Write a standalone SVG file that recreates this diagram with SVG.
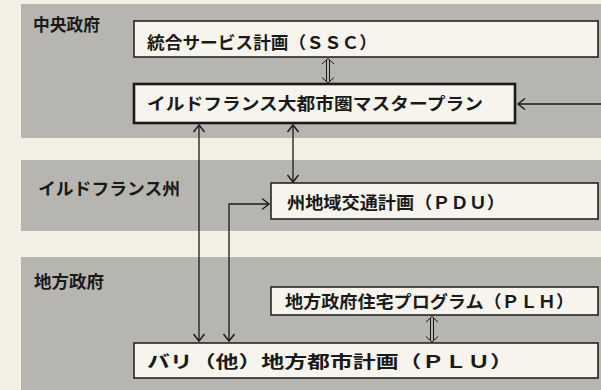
<svg xmlns="http://www.w3.org/2000/svg" width="601" height="390" viewBox="0 0 601 390">
<style>
.band{fill:#b6b5b0}
.box{fill:#f6f4ec;stroke:#1a1a1a;stroke-width:1.5}
.boxb{fill:#f6f4ec;stroke:#1a1a1a;stroke-width:2.6}
.lbl{font-family:"Noto Sans CJK JP","Noto Sans",sans-serif;font-weight:700;font-size:17px;fill:#1a1a1a}
.txt{font-family:"Noto Sans CJK JP","Noto Sans",sans-serif;font-weight:700;font-size:17px;fill:#1a1a1a}
.ln{fill:none;stroke:#1a1a1a;stroke-width:1.3}
.dbl{fill:none;stroke:#1a1a1a;stroke-width:1}
</style>
<defs>
<marker id="ah" markerUnits="userSpaceOnUse" markerWidth="14" markerHeight="14" viewBox="-8 -7 10 14" refX="0" refY="0" orient="auto-start-reverse">
<path d="M-7,-5.5 L0,0 L-7,5.5" fill="none" stroke="#1a1a1a" stroke-width="1.4"/>
</marker>
</defs>
<rect width="601" height="390" fill="#f2efe4"/>
<rect class="band" x="21" y="4" width="580" height="134"/>
<rect class="band" x="21" y="160" width="580" height="71"/>
<rect class="band" x="21" y="257" width="580" height="133"/>
<g id="lane-central"><text class="lbl" x="33" y="31" textLength="67" lengthAdjust="spacingAndGlyphs">中央政府</text></g>
<g id="lane-region"><text class="lbl" x="38" y="195" textLength="142" lengthAdjust="spacingAndGlyphs">イルドフランス州</text></g>
<g id="lane-local"><text class="lbl" x="34" y="288" textLength="70" lengthAdjust="spacingAndGlyphs">地方政府</text></g>
<g id="ssc"><rect class="box" x="134" y="21" width="464" height="36"/><text class="txt" x="147" y="49" textLength="230" lengthAdjust="spacingAndGlyphs">統合サービス計画（ＳＳＣ）</text></g>
<g id="sdrif"><rect class="boxb" x="134" y="84" width="381" height="39"/><text class="txt" x="147" y="110" textLength="336" lengthAdjust="spacingAndGlyphs">イルドフランス大都市圏マスタープラン</text></g>
<g id="pdu"><rect class="box" x="271" y="183" width="327" height="36"/><text class="txt" x="287" y="209" textLength="218" lengthAdjust="spacingAndGlyphs">州地域交通計画（ＰＤＵ）</text></g>
<g id="plh"><rect class="box" x="271" y="287" width="327" height="28"/><text class="txt" x="285" y="308" textLength="289" lengthAdjust="spacingAndGlyphs">地方政府住宅プログラム（ＰＬＨ）</text></g>
<g id="plu"><rect class="box" x="134" y="343" width="464" height="35"/><text class="txt" x="147" y="368" textLength="366" lengthAdjust="spacingAndGlyphs">バリ（他）地方都市計画（ＰＬＵ）</text></g>
<g id="connectors">
<path class="ln" d="M199,125 V341" marker-start="url(#ah)" marker-end="url(#ah)"/>
<path class="ln" d="M293,125 V182" marker-start="url(#ah)" marker-end="url(#ah)"/>
<path class="ln" d="M269,204 H229 V341" marker-start="url(#ah)" marker-end="url(#ah)"/>
<path class="ln" d="M601,104 H518" marker-end="url(#ah)"/>
<path class="dbl" d="M328,58.5 L322,64 M328,58.5 L334,64 M326.5,60 V81.5 M329.5,60 V81.5 M328,83 L322,77.5 M328,83 L334,77.5"/>
<path class="dbl" d="M432,316.5 L426,322 M432,316.5 L438,322 M430.5,318 V340.5 M433.5,318 V340.5 M432,342 L426,336.5 M432,342 L438,336.5"/>
</g>
</svg>
